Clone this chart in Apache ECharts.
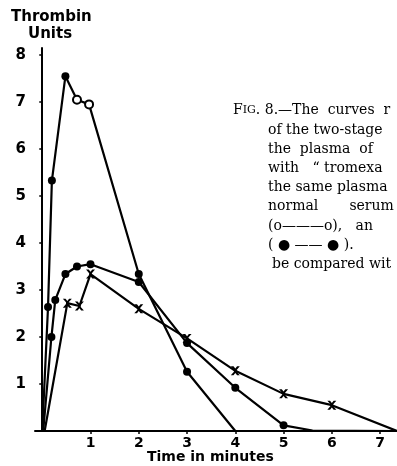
<!DOCTYPE html>
<html>
<head>
<meta charset="utf-8">
<script src="https://cdn.jsdelivr.net/npm/echarts@6/dist/echarts.min.js"></script>
<style>html,body{margin:0;padding:0;background:#fff}#c{width:397px;height:466px}</style>
</head>
<body>
<div id="c"></div>
<script>
// Series A: tall peak curve (x in minutes, y in thrombin units)
var aX = [0, 0.12, 0.2, 0.48, 0.72, 0.97, 2, 3, 4];
var aY = [0, 2.64, 5.33, 7.55, 7.05, 6.95, 3.34, 1.26, 0];
// Series B: circles, lower peak
var bX = [0.02, 0.19, 0.27, 0.48, 0.72, 1.0, 2, 3, 4, 5, 5.6, 7.35];
var bY = [0, 2.0, 2.79, 3.34, 3.5, 3.55, 3.17, 1.87, 0.92, 0.12, 0.01, 0];
// Series C: crosses
var cX = [0.05, 0.52, 0.77, 1.0, 2, 3, 4, 5, 6, 7.35];
var cY = [0, 2.72, 2.66, 3.34, 2.6, 1.97, 1.28, 0.79, 0.55, 0];
// Tick labels
var xTicks = [1, 2, 3, 4, 5, 6, 7];
var yTicks = [1, 2, 3, 4, 5, 6, 7, 8];
var yLabelTitle = ['Thrombin', 'Units'];
var xLabelTitle = 'Time in minutes';
var captionLines = [
  'of the two-stage',
  'the  plasma  of',
  'with   \u201c tromexa',
  'the same plasma',
  'normal       serum',
  '(o\u2014\u2014\u2014o),   an',
  '( \u25cf \u2014\u2014 \u25cf ).',
  'be compared wit'
];

var chart = echarts.init(document.getElementById('c'));
var crossPath = 'path://M0,0 L3,0 L5,2.5 L7,0 L10,0 L6.5,4 L6.5,6 L10,10 L7,10 L5,7.5 L3,10 L0,10 L3.5,6 L3.5,4 Z';

function pts(xs, ys, kind, openIdx) {
  return xs.map(function (x, i) {
    var p = { value: [x, ys[i]] };
    if (ys[i] === 0 || (kind === 'b' && i === 10)) {
      p.symbol = 'none';
    } else if (kind === 'c') {
      p.symbol = crossPath; p.symbolSize = 9;
      p.itemStyle = { color: '#000' };
    } else if (openIdx && openIdx.indexOf(i) >= 0) {
      p.symbol = 'circle'; p.symbolSize = 8;
      p.itemStyle = { color: '#fff', borderColor: '#000', borderWidth: 2 };
    } else {
      p.symbol = 'circle'; p.symbolSize = 8;
      p.itemStyle = { color: '#000' };
    }
    return p;
  });
}

function lineSeries(xs, ys, kind, openIdx) {
  return {
    type: 'line',
    data: pts(xs, ys, kind, openIdx),
    lineStyle: { color: '#000', width: 2.2 },
    itemStyle: { color: '#000' },
    showAllSymbol: true,
    animation: false,
    z: 3
  };
}

var capFont = '14px "DejaVu Serif"';
var graphics = [
  { type: 'text', left: 11, top: 10, style: { text: yLabelTitle[0], font: 'bold 15px "DejaVu Sans"', fill: '#000' } },
  { type: 'text', left: 28, top: 27, style: { text: yLabelTitle[1], font: 'bold 15px "DejaVu Sans"', fill: '#000' } },
  { type: 'text', left: 147, top: 450, style: { text: xLabelTitle, font: 'bold 14px "DejaVu Sans"', fill: '#000' } },
  { type: 'text', left: 233, top: 103, style: {
      text: '{f|F}{s|IG}{n|. 8.\u2014The  curves  r}',
      rich: {
        f: { font: capFont, fill: '#000' },
        s: { font: '11px "DejaVu Serif"', fill: '#000' },
        n: { font: capFont, fill: '#000' }
      }
  } }
];
captionLines.forEach(function (t, i) {
  graphics.push({ type: 'text', left: (i === 7 ? 272 : 268), top: 123 + 19.2 * i,
    style: { text: t, font: capFont, fill: '#000' } });
});

chart.setOption({
  animation: false,
  backgroundColor: '#fff',
  grid: { left: 35, top: 48, width: 362, height: 383 },
  xAxis: {
    type: 'value', min: -0.15, max: 7.35,
    axisLine: { show: true, lineStyle: { color: '#000', width: 2 } },
    axisTick: { show: true, customValues: xTicks, length: 3, lineStyle: { color: '#000', width: 1.5 } },
    axisLabel: { customValues: xTicks, color: '#000', fontWeight: 'bold', fontSize: 14, fontFamily: 'DejaVu Sans', margin: 5 },
    splitLine: { show: false }
  },
  yAxis: {
    type: 'value', min: 0, max: 8.15,
    axisLine: { show: true, lineStyle: { color: '#000', width: 2 } },
    axisTick: { show: true, customValues: yTicks, length: 3, lineStyle: { color: '#000', width: 1.5 } },
    axisLabel: { customValues: yTicks, color: '#000', fontWeight: 'bold', fontSize: 15, fontFamily: 'DejaVu Sans', margin: 9 },
    splitLine: { show: false }
  },
  series: [
    lineSeries(aX, aY, 'a', [4, 5]),
    lineSeries(bX, bY, 'b'),
    lineSeries(cX, cY, 'c')
  ],
  graphic: graphics
});
</script>
</body>
</html>
